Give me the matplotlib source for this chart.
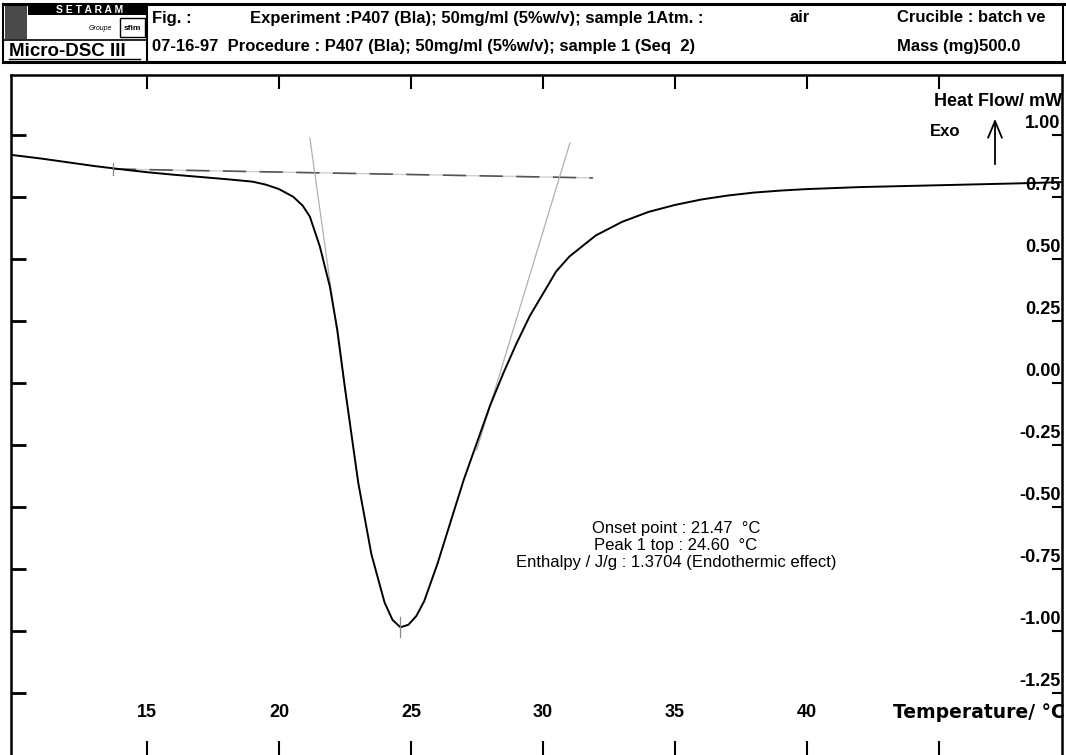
import matplotlib
matplotlib.use("Agg")
import matplotlib.pyplot as plt
from matplotlib.patches import Rectangle
from matplotlib.lines import Line2D

# DSC curve
temp = [9.85, 11, 12, 13, 14, 15, 16, 17, 18, 18.5, 19.0, 19.5, 20.0, 20.54,
        20.9, 21.17, 21.55, 21.93, 22.21, 22.5, 23.0, 23.5, 24.0, 24.3, 24.6,
        24.9, 25.2, 25.5, 26.0, 26.5, 27.0, 27.5, 28.0, 28.5, 29.0, 29.5,
        30.0, 30.5, 31.0, 32.0, 33.0, 34.0, 35.0, 36.0, 37.0, 38.0, 39.0,
        40.0, 42.0, 44.0, 46.0, 48.0, 49.66]
heat_flow = [0.92, 0.905, 0.89, 0.875, 0.862, 0.85, 0.84, 0.831, 0.822,
             0.817, 0.812, 0.80, 0.782, 0.751, 0.715, 0.671, 0.55, 0.388,
             0.214, -0.02, -0.40, -0.69, -0.885, -0.955, -0.985, -0.975,
             -0.94, -0.88, -0.73, -0.56, -0.39, -0.24, -0.09, 0.04, 0.16,
             0.27, 0.36, 0.45, 0.51, 0.595, 0.65, 0.69, 0.718, 0.74, 0.756,
             0.768, 0.776, 0.782, 0.79, 0.795, 0.80, 0.805, 0.81]

baseline_t = [13.71, 31.89]
baseline_hf = [0.863, 0.827]
tan_left_t = [21.17, 22.56]
tan_left_hf = [0.988, -0.069]
tan_right_t = [27.49, 31.02]
tan_right_hf = [-0.27, 0.968]
peak_t = 24.60
peak_hf = -0.985

x_ticks = [15, 20, 25, 30, 35, 40, 45]
x_labels = ['15', '20', '25', '30', '35', '40']
y_ticks = [1.00, 0.75, 0.50, 0.25, 0.00, -0.25, -0.50, -0.75, -1.00, -1.25]
y_labels = ['1.00', '0.75', '0.50', '0.25', '0.00', '-0.25', '-0.50',
            '-0.75', '-1.00', '-1.25']

results = ['Onset point : 21.47  °C',
           'Peak 1 top : 24.60  °C',
           'Enthalpy / J/g : 1.3704 (Endothermic effect)']

W, H = 1066, 755
plt.rcParams['font.family'] = ['Liberation Sans', 'DejaVu Sans']
fig = plt.figure(figsize=(W / 100, H / 100), dpi=100)


def px(x, y):
    return x / W, 1 - y / H


def box(x0, y0, x1, y1, **kw):
    fig.add_artist(Rectangle(px(x0, y1), (x1 - x0) / W, (y1 - y0) / H,
                             transform=fig.transFigure, **kw))


def seg(x0, y0, x1, y1, **kw):
    a, b = px(x0, y0)
    c, d = px(x1, y1)
    fig.add_artist(Line2D([a, c], [b, d], transform=fig.transFigure, **kw))


# header block
seg(3, 4, 1064, 4, color='k', lw=2.2)
seg(3, 62, 1064, 62, color='k', lw=2.2)
seg(3, 4, 3, 62, color='k', lw=1.5)
seg(1063, 4, 1063, 62, color='k', lw=1.5)
seg(147, 4, 147, 62, color='k', lw=1.5)
seg(3, 40, 147, 40, color='k', lw=1.2)
box(5, 5, 27, 39, facecolor='#4a4a4a', edgecolor='none')
box(28, 5, 146, 15, facecolor='k', edgecolor='none')
box(120, 18, 145, 37, facecolor='white', edgecolor='k', lw=1)
fig.text(*px(90, 10), 'S E T A R A M', color='white', fontsize=7.5,
         fontweight='bold', ha='center', va='center')
fig.text(*px(100, 29), 'Groupe', fontsize=5, style='italic',
         ha='center', va='center')
fig.text(*px(132, 28), 'sfim', fontsize=6, fontweight='bold',
         ha='center', va='center')
fig.text(*px(9, 51), 'Micro-DSC III', fontsize=13.5, fontweight='bold',
         va='center')
seg(9, 59, 140, 59, color='k', lw=1)

hdr = dict(fontsize=12, fontweight='bold', va='center')
fig.text(*px(152, 18), 'Fig. :', **hdr)
fig.text(*px(250, 18),
         'Experiment :P407 (Bla); 50mg/ml (5%w/v); sample 1Atm. :', **hdr)
fig.text(*px(790, 18), 'air', **hdr)
fig.text(*px(897, 18), 'Crucible : batch ve', **hdr)
fig.text(*px(152, 46),
         '07-16-97  Procedure : P407 (Bla); 50mg/ml (5%w/v); sample 1 (Seq  2)',
         **hdr)
fig.text(*px(897, 46), 'Mass (mg)500.0', **hdr)

# plot frame
ax = fig.add_axes([11 / W, 0, (1062 - 11) / W, 1 - 75 / H])
ax.set_xlim(9.85, 49.66)
ax.set_ylim(-1.5, 1.242)
for s in ['left', 'top', 'right']:
    ax.spines[s].set_linewidth(1.8)
ax.spines['bottom'].set_visible(False)

ax.set_xticks(x_ticks)
ax.set_yticks(y_ticks)
ax.tick_params(axis='x', direction='in', top=True, bottom=True,
               length=10, width=1.5, labelbottom=False)
ax.tick_params(axis='y', direction='in', left=True, right=False,
               length=11, width=2, labelleft=False)
ax2 = ax.twinx()
ax2.set_ylim(ax.get_ylim())
ax2.set_yticks(y_ticks)
ax2.tick_params(axis='y', direction='in', length=7, width=1.5,
                labelright=False)
for s in ax2.spines.values():
    s.set_visible(False)

# curve, baseline, tangents
ax.plot(baseline_t, baseline_hf, color='#cfcfcf', lw=1)
ax.plot(baseline_t, baseline_hf, color='#555555', lw=1.2, dashes=(14, 8))
ax.plot(tan_left_t, tan_left_hf, color='#b0b0b0', lw=0.9)
ax.plot(tan_right_t, tan_right_hf, color='#b0b0b0', lw=0.9)
ax.plot(temp, heat_flow, color='k', lw=1.4)
ax.plot([peak_t, peak_t], [peak_hf - 0.04, peak_hf + 0.04], color='#888888', lw=0.9)
ax.plot([baseline_t[0], baseline_t[0]], [baseline_hf[0] - 0.025, baseline_hf[0] + 0.025],
        color='#888888', lw=0.9)

for i, line in enumerate(results):
    fig.text(*px(676, 528 + 17.5 * i), line, fontsize=12,
             ha='center', va='center')

# axis labels written inside the frame
lab = dict(fontsize=13, fontweight='bold')
for t, s in zip(x_ticks, x_labels):
    ax.text(t, (383 - 712) / 248, s, ha='center', va='center', **lab)
for v, s in zip(y_ticks, y_labels):
    ax.annotate(s, xy=(1, v), xycoords=('axes fraction', 'data'),
                xytext=(-1, 8), textcoords='offset points',
                ha='right', va='center', **lab)
fig.text(*px(1065, 712), 'Temperature/ °C', ha='right', va='center',
         fontsize=13.5, fontweight='bold', family='DejaVu Sans')
fig.text(*px(1062, 101), 'Heat Flow/ mW', ha='right', va='center',
         fontsize=13, fontweight='bold')
fig.text(*px(945, 131), 'Exo', ha='center', va='center',
         fontsize=12, fontweight='bold')
ax.annotate('', xy=px(995, 116), xycoords='figure fraction',
            xytext=px(995, 167), textcoords='figure fraction',
            arrowprops=dict(arrowstyle='->,head_length=1.2,head_width=0.5',
                            lw=1.3, color='k'))

fig.savefig('out.png', dpi=100)
